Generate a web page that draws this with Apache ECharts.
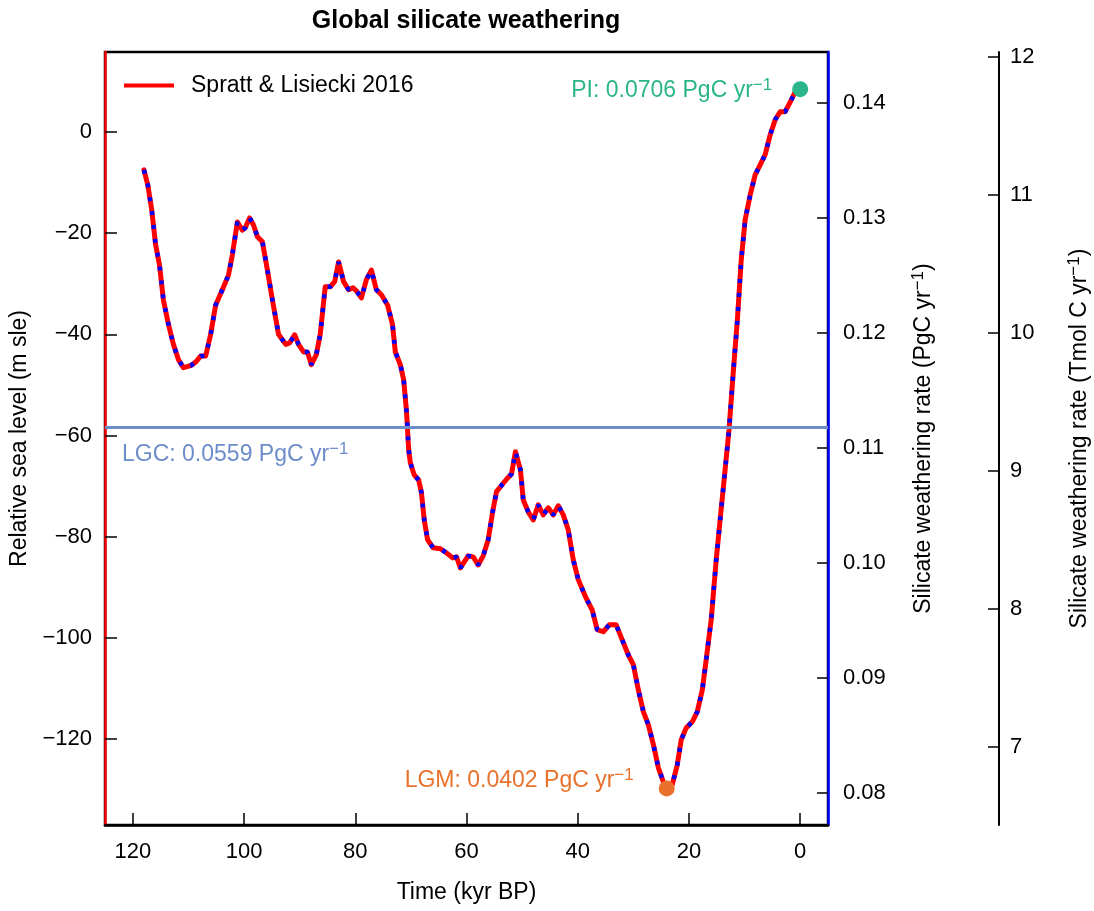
<!DOCTYPE html>
<html>
<head>
<meta charset="utf-8">
<title>Global silicate weathering</title>
<script src="https://cdn.jsdelivr.net/npm/echarts@6/dist/echarts.min.js"></script>
<style>
  html, body { margin: 0; padding: 0; background: #fff; }
  #chart { width: 1094px; height: 911px; }
</style>
</head>
<body>
<div id="chart"></div>
<script>
// Time (kyr BP) and relative sea level (m sle), Spratt & Lisiecki 2016 stack
const timeKyr = [
  118.0, 117.3, 116.6, 115.9, 115.2, 114.5, 113.6, 112.7, 111.8, 110.9,
  109.6, 108.7, 107.8, 106.9, 106.0, 105.1, 103.9, 102.8, 102.1, 101.2,
  100.3, 99.8, 99.0, 98.3, 97.6, 96.7, 95.8, 94.9, 93.8, 92.5,
  91.8, 90.9, 90.2, 89.3, 88.6, 87.9, 87.0, 86.3, 85.4, 84.5,
  83.7, 83.0, 82.1, 81.2, 80.4, 79.8, 78.9, 78.0, 77.1, 76.2,
  75.3, 74.2, 73.3, 72.8, 71.9, 71.3, 70.8, 70.4, 70.1, 69.4,
  68.6, 68.1, 67.6, 67.0, 66.0, 64.7, 63.6, 62.5, 61.8, 61.1,
  60.4, 59.7, 58.8, 57.9, 57.0, 56.1, 55.3, 54.6, 53.5, 52.6,
  51.9, 51.2, 50.3, 49.8, 48.9, 48.0, 47.1, 46.2, 45.3, 44.4,
  43.5, 42.6, 41.7, 40.8, 39.9, 38.6, 37.4, 36.5, 35.4, 34.3,
  33.1, 32.0, 30.9, 30.0, 29.1, 28.2, 27.3, 26.4, 25.5, 24.6,
  23.9, 23.0, 22.1, 21.4, 20.5, 19.4, 18.5, 17.6, 16.9, 16.0,
  15.1, 14.4, 13.5, 12.8, 12.0, 11.3, 10.6, 9.9, 9.0, 8.1,
  7.2, 6.3, 5.4, 4.5, 3.6, 2.7, 1.8, 0.9, 0.0
];
const seaLevel = [
  -7.5, -10.5, -15.4, -22.3, -26.3, -33.2, -38.0, -42.0, -45.0, -46.6,
  -46.2, -45.5, -44.3, -44.3, -40.0, -34.2, -31.2, -28.3, -24.3, -17.8,
  -19.4, -19.0, -17.0, -18.4, -20.7, -21.7, -27.3, -33.2, -40.0, -42.0,
  -41.7, -40.1, -42.0, -43.5, -43.5, -46.0, -44.0, -40.0, -30.6, -30.6,
  -29.6, -25.7, -29.6, -31.2, -30.8, -31.4, -32.8, -29.2, -27.3, -31.2,
  -32.2, -34.2, -38.1, -43.5, -46.0, -49.0, -55.0, -62.8, -65.4, -67.8,
  -68.8, -71.3, -76.7, -80.6, -82.2, -82.4, -83.2, -84.2, -84.0, -86.2,
  -85.0, -83.8, -84.0, -85.6, -83.8, -80.6, -75.1, -71.1, -69.6, -68.4,
  -67.6, -63.2, -66.8, -72.7, -75.1, -76.7, -73.7, -75.7, -74.3, -75.7,
  -73.9, -75.7, -78.7, -84.6, -88.5, -91.9, -94.5, -98.4, -98.8, -97.4,
  -97.4, -100.4, -103.4, -105.3, -110.3, -114.6, -117.2, -121.1, -125.7, -128.5,
  -129.8, -129.0, -125.1, -120.2, -117.8, -116.6, -114.6, -110.3, -104.3, -96.4,
  -84.6, -76.7, -66.8, -58.9, -47.0, -37.2, -25.3, -17.4, -12.5, -8.5,
  -6.5, -4.5, -0.6, 2.4, 4.0, 4.0, 5.9, 7.9, 8.7
];

// Reference states: global silicate weathering rate (PgC yr-1)
const stateNames = ['PI', 'LGC', 'LGM'];
const stateTime = [0, null, 24];
const stateRate = [0.0706, 0.0559, 0.0402];

// Axis ticks
const timeTicks = [0, 20, 40, 60, 80, 100, 120];
const seaTicks = [-120, -100, -80, -60, -40, -20, 0];
const pgcTicks = [0.08, 0.09, 0.10, 0.11, 0.12, 0.13, 0.14];
const tmolTicks = [7, 8, 9, 10, 11, 12];

// Axis extents
const timeRange = [-5, 125];
const seaRange = [-137.0, 15.8];
const pgcRange = [0.077217, 0.144435];
const PGC_TO_TMOL = 1000 / 12;            // 1 PgC = 1e15 g C / 12 g mol-1
const tmolRange = pgcRange.map(v => v * PGC_TO_TMOL);
// the plotted weathering curve carries twice the stated global rate
const stateRange = pgcRange.map(v => v / 2);

const FONT = "'Liberation Sans', Arial, Helvetica, sans-serif";
const C_RED = '#ff0000', C_BLUE = '#0000ff';
const C_PI = '#2bb58a', C_LGM = '#e8722c', C_LGC = '#6d8cca';
const TICK_FS = 22, TEXT_FS = 23;

const supRich = (color, size) => ({
  t: { color: color, fontSize: size, fontFamily: FONT, lineHeight: size + 4 },
  s: { color: color, fontSize: Math.round(size * 0.72), fontFamily: FONT,
       verticalAlign: 'top', lineHeight: Math.round(size * 0.72) }
});
const rateLabel = i => '{t|' + stateNames[i] + ': ' + stateRate[i].toFixed(4) + ' PgC yr}{s|\u22121}';

const series = [
  {
    name: 'Spratt & Lisiecki 2016',
    type: 'line',
    xAxisIndex: 0, yAxisIndex: 0,
    data: timeKyr.map((t, i) => [t, seaLevel[i]]),
    showSymbol: false, symbol: 'none',
    lineStyle: { color: C_RED, width: 5, cap: 'round', join: 'round' },
    itemStyle: { color: C_RED },
    z: 3
  },
  {
    name: 'weathering',
    type: 'line',
    xAxisIndex: 0, yAxisIndex: 0,
    data: timeKyr.slice(0, -1).map((t, i) => [t, seaLevel[i]]),
    showSymbol: false, symbol: 'none',
    lineStyle: { color: C_BLUE, width: 4.5, type: [4, 10], cap: 'butt' },
    z: 4
  },
  {
    name: 'states',
    type: 'scatter',
    xAxisIndex: 0, yAxisIndex: 3,
    symbolSize: 16,
    z: 5,
    itemStyle: { opacity: 1 },
    data: [
      {
        value: [stateTime[0], stateRate[0]],
        itemStyle: { color: C_PI, opacity: 1 },
        label: { show: true, position: 'left', distance: 20, formatter: rateLabel(0),
                 rich: supRich(C_PI, TEXT_FS), offset: [0, 1] }
      },
      {
        value: [stateTime[2], stateRate[2]],
        itemStyle: { color: C_LGM, opacity: 1 },
        label: { show: true, position: 'left', distance: 25, formatter: rateLabel(2),
                 rich: supRich(C_LGM, TEXT_FS), offset: [0, -8] }
      }
    ],
    markLine: {
      silent: true,
      symbol: 'none',
      animation: false,
      lineStyle: { color: C_LGC, width: 3, type: 'solid' },
      label: {
        show: true, position: 'insideStartBottom', distance: 14,
        formatter: rateLabel(1), rich: supRich(C_LGC, TEXT_FS), padding: [0, 0, 0, 3]
      },
      data: [[{ coord: [timeRange[1], stateRate[1]] }, { coord: [timeRange[0], stateRate[1]] }]]
    }
  }
];

const chart = echarts.init(document.getElementById('chart'), null, { renderer: 'canvas' });
chart.setOption({
  animation: false,
  backgroundColor: '#ffffff',
  textStyle: { fontFamily: FONT },
  title: {
    text: 'Global silicate weathering',
    left: 466, top: 9, textAlign: 'center', padding: 0,
    textStyle: { fontFamily: FONT, fontSize: 25, fontWeight: 'bold', color: '#000' }
  },
  legend: {
    data: [{ name: 'Spratt & Lisiecki 2016', icon: 'rect' }],
    left: 124, top: 74, padding: 0,
    itemWidth: 50, itemHeight: 4,
    textStyle: { fontFamily: FONT, fontSize: TEXT_FS, color: '#000', padding: [0, 0, 0, 12] },
    selectedMode: false
  },
  grid: {
    left: 105, right: 266, top: 52, bottom: 86,
    outerBoundsMode: 'none',
    show: true, borderColor: '#000', borderWidth: 2.5, backgroundColor: 'transparent'
  },
  xAxis: [{
    type: 'value',
    min: timeRange[0], max: timeRange[1], inverse: true,
    name: 'Time (kyr BP)', nameLocation: 'middle', nameGap: 56,
    nameTextStyle: { fontFamily: FONT, fontSize: TEXT_FS, color: '#000' },
    axisLine: { show: true, onZero: false, lineStyle: { color: '#000', width: 2.5 } },
    axisTick: { show: true, inside: true, length: 12, customValues: timeTicks,
                lineStyle: { color: '#000', width: 1.5 } },
    axisLabel: { show: true, customValues: timeTicks, margin: 16, fontSize: TICK_FS,
                 fontFamily: FONT, color: '#000', formatter: v => String(v) },
    splitLine: { show: false }
  }],
  yAxis: [
    {
      type: 'value', position: 'left',
      min: seaRange[0], max: seaRange[1],
      name: 'Relative sea level (m sle)', nameLocation: 'middle', nameGap: 74, nameRotate: 90,
      nameTextStyle: { fontFamily: FONT, fontSize: TEXT_FS, color: '#000' },
      axisLine: { show: true, onZero: false, lineStyle: { color: C_RED, width: 2.5 } },
      axisTick: { show: true, inside: true, length: 12, customValues: seaTicks,
                  lineStyle: { color: '#000', width: 1.5 } },
      axisLabel: { show: true, customValues: seaTicks, margin: 13, fontSize: TICK_FS,
                   fontFamily: FONT, color: '#000',
                   formatter: v => (v < 0 ? '\u2212' + Math.abs(v) : String(v)) },
      splitLine: { show: false }
    },
    {
      type: 'value', position: 'right',
      min: pgcRange[0], max: pgcRange[1],
      name: '{t|Silicate weathering rate (PgC yr}{s|\u22121}{t|)}',
      nameLocation: 'middle', nameGap: 82, nameRotate: 90,
      nameTextStyle: { rich: supRich('#000', TEXT_FS) },
      axisLine: { show: true, onZero: false, lineStyle: { color: C_BLUE, width: 2.5 } },
      axisTick: { show: true, inside: true, length: 11, customValues: pgcTicks,
                  lineStyle: { color: '#000', width: 1.5 } },
      axisLabel: { show: true, customValues: pgcTicks, margin: 15, fontSize: TICK_FS,
                   fontFamily: FONT, color: '#000', formatter: v => v.toFixed(2) },
      splitLine: { show: false }
    },
    {
      type: 'value', position: 'right', offset: 171,
      min: tmolRange[0], max: tmolRange[1],
      name: '{t|Silicate weathering rate (Tmol C yr}{s|\u22121}{t|)}',
      nameLocation: 'middle', nameGap: 67, nameRotate: 90,
      nameTextStyle: { rich: supRich('#000', TEXT_FS) },
      axisLine: { show: true, onZero: false, lineStyle: { color: '#000', width: 2 } },
      axisTick: { show: true, inside: true, length: 11, customValues: tmolTicks,
                  lineStyle: { color: '#000', width: 1.5 } },
      axisLabel: { show: true, customValues: tmolTicks, margin: 11, fontSize: TICK_FS,
                   fontFamily: FONT, color: '#000', formatter: v => String(Math.round(v)) },
      splitLine: { show: false }
    },
    {
      type: 'value', show: false,
      min: stateRange[0], max: stateRange[1],
      splitLine: { show: false }
    }
  ],
  series: series
});
</script>
</body>
</html>
